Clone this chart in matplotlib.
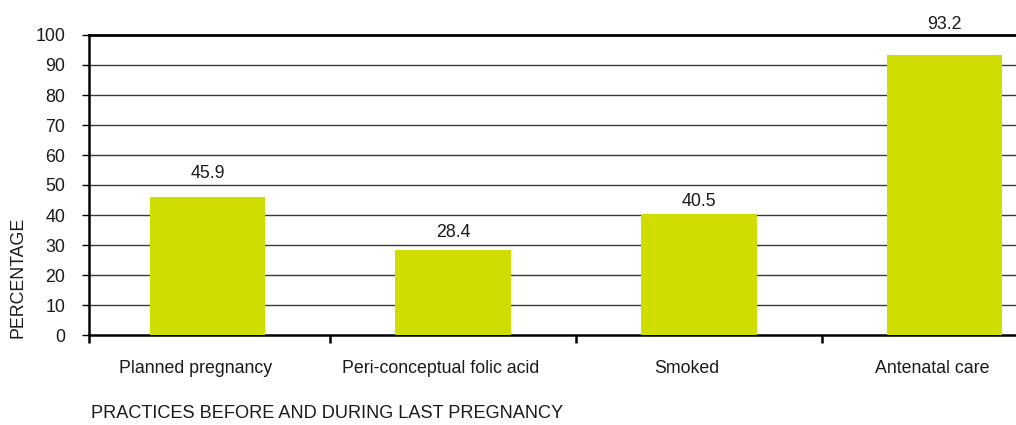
import numpy as np
import matplotlib.pyplot as plt
import matplotlib.transforms as mtransforms

practices = ["Planned pregnancy", "Peri-conceptual folic acid", "Smoked", "Antenatal care"]
percentages = [45.9, 28.4, 40.5, 93.2]
yticks = [0, 10, 20, 30, 40, 50, 60, 70, 80, 90, 100]

# gap (px) between each bar top and its value label
label_gap = [15, 9, 3, 22]

plt.rcParams['font.family'] = ['Liberation Sans', 'DejaVu Sans']
FS = 12.8
BAR = "#d0dd00"
TXT = "#1a1a1a"

fig = plt.figure(figsize=(10.16, 4.25), dpi=100)
ax = fig.add_axes([89 / 1016, 90 / 425, 1 - 89 / 1016, 300 / 425])

x = np.arange(len(practices))
ax.bar(x, percentages, width=0.47, color=BAR, zorder=3)

ax.set_ylim(0, 100)
ax.set_xlim(-0.482, 3.291)
ax.set_yticks(yticks)
ax.set_yticklabels([str(v) for v in yticks], fontsize=FS, color=TXT)
ax.tick_params(axis='y', length=5, width=1, pad=12, direction='out')

# gridlines, with a heavier line at 100
for v in yticks[1:-1]:
    ax.axhline(v, color="#3a3a3a", lw=1.0, zorder=1)
ax.axhline(100, color="black", lw=2.0, zorder=1, clip_on=False)

for s in ['top', 'right']:
    ax.spines[s].set_visible(False)
for s in ['left', 'bottom']:
    ax.spines[s].set_linewidth(1.8)
    ax.spines[s].set_color("black")

# category labels under the bars, boundary ticks between them
ax.set_xticks(x)
ax.set_xticklabels(practices, fontsize=FS, color=TXT)
ax.tick_params(axis='x', which='major', length=0, pad=18)
shift = mtransforms.ScaledTranslation(-12 / 100, 0, fig.dpi_scale_trans)
for lbl in ax.get_xticklabels():
    lbl.set_transform(lbl.get_transform() + shift)
ax.set_xticks([-0.482, 0.5, 1.5, 2.5], minor=True)
ax.tick_params(axis='x', which='minor', length=6, width=1.8, direction='out')

for xi, v, g in zip(x, percentages, label_gap):
    ax.annotate(f"{v}", (xi, v), xytext=(0, g * 0.72), textcoords='offset points',
                ha='center', va='bottom', fontsize=FS, color=TXT)

fig.text(18 / 1016, 1 - 277 / 425, "PERCENTAGE", rotation=90, ha='center', va='center',
         fontsize=FS, color=TXT)
fig.text(91 / 1016, 1 - 413 / 425, "PRACTICES BEFORE AND DURING LAST PREGNANCY",
         ha='left', va='center', fontsize=FS + 0.3, color=TXT)

fig.savefig("out.png", dpi=100)
